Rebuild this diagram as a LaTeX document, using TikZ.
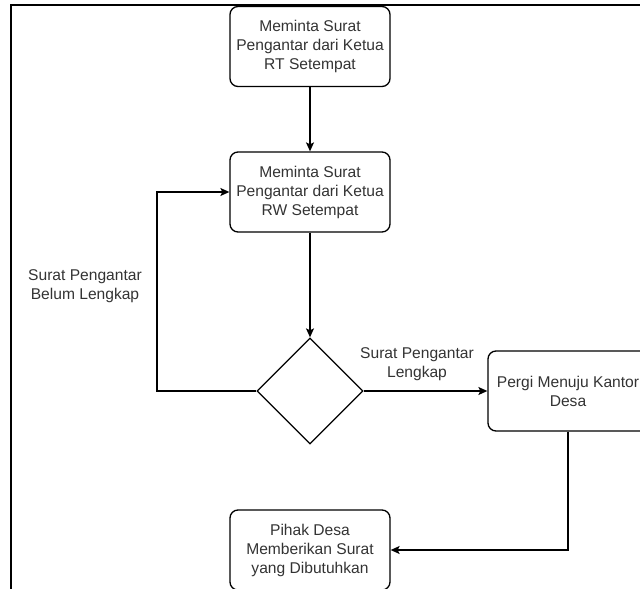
\documentclass[tikz,border=0pt]{standalone}
\usepackage{fontspec}
\setmainfont{Liberation Sans}
\usetikzlibrary{shapes.geometric,arrows.meta}
\begin{document}
\begin{tikzpicture}[x=1pt,y=-1pt,
  every node/.style={font=\fontsize{15.6}{19}\selectfont,text=black!80,align=center},
  proc/.style={draw,line width=1.3pt,rounded corners=8pt,minimum width=160pt,minimum height=80pt,inner sep=2pt},
  dec/.style={draw,diamond,line width=1.3pt,minimum width=106pt,minimum height=106pt,inner sep=0pt},
  arr/.style={line width=1.3pt,-{Stealth[length=9pt,width=8pt,inset=2pt]}}]
\useasboundingbox (0,0) rectangle (640,589);
\clip (0,0) rectangle (640,589);
% frame
\draw[line width=2pt] (11,600) -- (11,5) -- (650,5);
% process boxes
\node[proc] (rt) at (310,46.5) {Meminta Surat\\Pengantar dari Ketua\\RT Setempat};
\node[proc] (rw) at (310,192) {Meminta Surat\\Pengantar dari Ketua\\RW Setempat};
\node[dec] (cek) at (310,391) {};
\node[proc] (kantor) at (568,391) {Pergi Menuju Kantor\\Desa};
\node[proc] (pihak) at (310,550) {Pihak Desa\\Memberikan Surat\\yang Dibutuhkan};
\coordinate (balik) at (157,391);
% connectors
\draw[arr] (rt) -- (rw);
\draw[arr] (rw) -- (cek);
\draw[arr] (cek.west) -- (balik) |- (rw.west);
\draw[arr] (cek.east) -- (kantor.west);
\draw[arr] (kantor.south) |- (pihak.east);
% labels
\node (belum) at (85,286) {Surat Pengantar\\Belum Lengkap};
\node (lengkap) at (417,364) {Surat Pengantar\\Lengkap};
\end{tikzpicture}
\end{document}
